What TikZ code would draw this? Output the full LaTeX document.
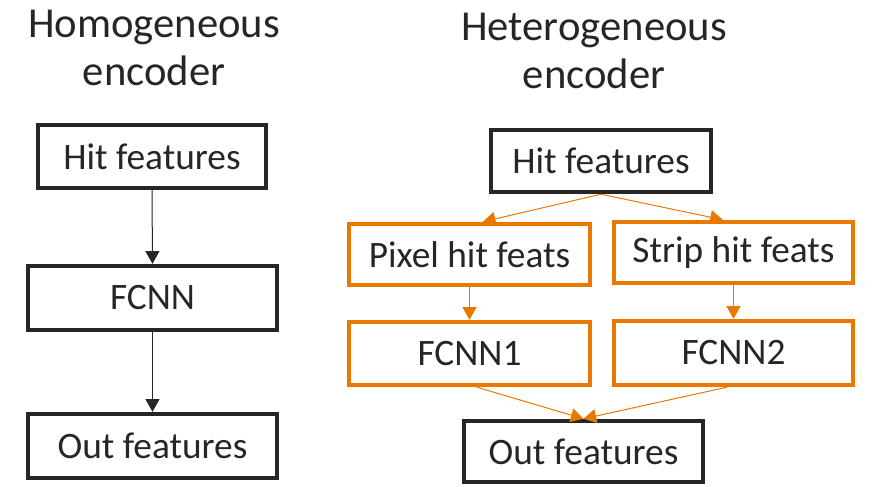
\documentclass[tikz,border=0pt]{standalone}
\usepackage{fontspec}
\setmainfont{Carlito}
\usetikzlibrary{arrows.meta,calc}
\definecolor{ink}{RGB}{38,38,38}
\definecolor{orng}{RGB}{233,120,0}
\begin{document}
\begin{tikzpicture}[x=0.75pt,y=-0.75pt,
  blkbox/.style={draw=ink,line width=3.3pt,text=ink,inner sep=0pt,font=\fontsize{28}{32}\selectfont},
  orgbox/.style={draw=orng,line width=3.3pt,text=ink,inner sep=0pt,font=\fontsize{28}{32}\selectfont},
  ttl/.style={text=ink,align=center,font=\fontsize{32}{36}\selectfont,inner sep=0pt},
  blkarr/.style={draw=ink,line width=0.75pt,-{Triangle[length=9.5pt,width=10.5pt]}},
  orgarr/.style={draw=orng,line width=0.75pt,-{Triangle[length=9.5pt,width=10.5pt]}}]
\useasboundingbox (0,0) rectangle (882,486);
% titles
\node[ttl] (t1) at (154,48) {Homogeneous\\encoder};
\node[ttl] (t2) at (594,51) {Heterogeneous\\encoder};
% left
\node[blkbox,minimum width=171pt,minimum height=47.25pt] (lhit) at (152,156.5) {Hit features};
\node[blkbox,minimum width=186.75pt,minimum height=48pt] (lfcnn) at (152.5,298) {FCNN};
\node[blkbox,minimum width=186.75pt,minimum height=48pt] (lout) at (152.5,446) {Out features};
\draw[blkarr] (lhit.south) -- (lfcnn.north);
\draw[blkarr] (lfcnn.south) -- (lout.north);
% right
\node[blkbox,minimum width=165pt,minimum height=46.5pt] (rhit) at (601,161) {Hit features};
\node[orgbox,minimum width=180.75pt,minimum height=45.75pt] (pix) at (469.5,254.5) {Pixel hit feats};
\node[orgbox,minimum width=179.25pt,minimum height=45.75pt] (strip) at (733.5,252.5) {Strip hit feats};
\node[orgbox,minimum width=180.75pt,minimum height=47.25pt] (f1) at (469.5,353.5) {FCNN1};
\node[orgbox,minimum width=179.25pt,minimum height=48pt] (f2) at (733.5,353) {FCNN2};
\node[blkbox,minimum width=179.25pt,minimum height=45.75pt] (rout) at (583.5,451.5) {Out features};
\draw[orgarr] (rhit.south) -- ([xshift=10pt]pix.north);
\draw[orgarr] (rhit.south) -- ([xshift=-8pt]strip.north);
\draw[orgarr] (pix.south) -- (f1.north);
\draw[orgarr] (strip.south) -- (f2.north);
\draw[orgarr] ([xshift=5.5pt]f1.south) -- (rout.north);
\draw[orgarr] ([xshift=-5pt]f2.south) -- (rout.north);
\end{tikzpicture}
\end{document}
